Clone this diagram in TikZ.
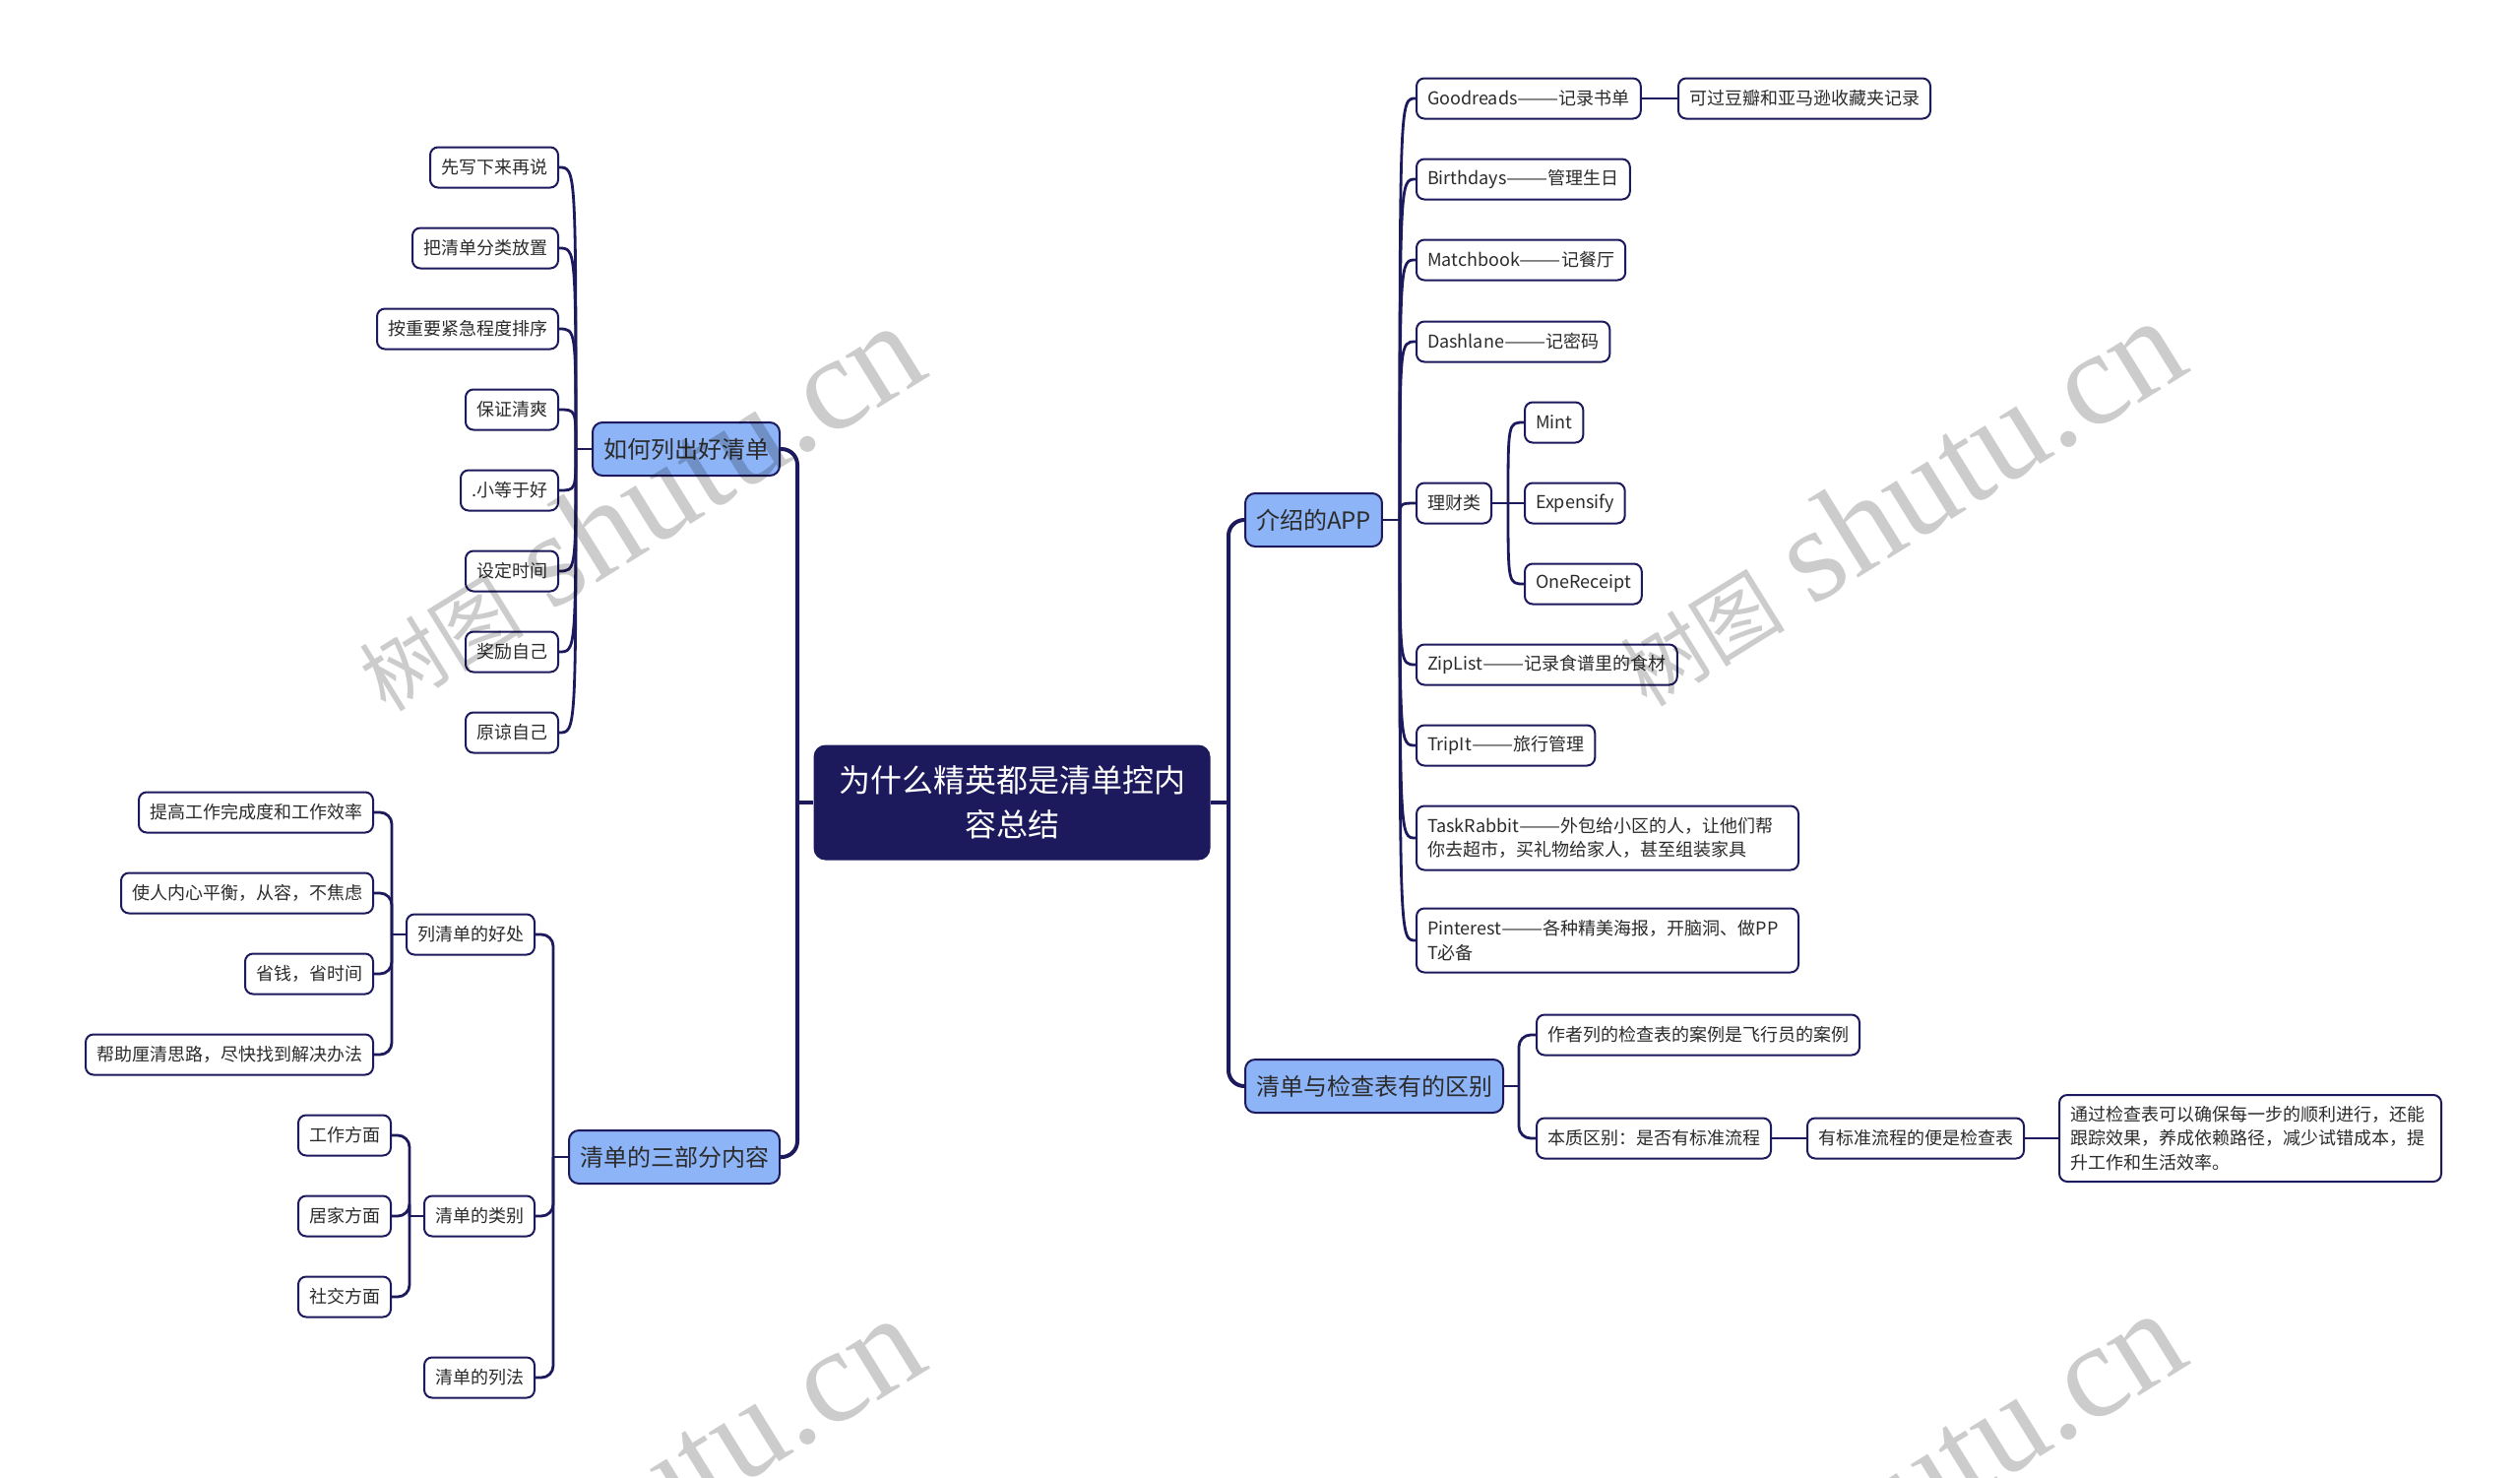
\documentclass[tikz,border=0pt]{standalone}
\usepackage{fontspec}
\setmainfont{Noto Sans CJK SC}
\newfontfamily\wmlat{Liberation Serif}
\newcommand\dashes{\scalebox{1.4}[1]{——}}
\definecolor{navy}{HTML}{1C1A5C}
\definecolor{blueone}{HTML}{8DB4F7}
\definecolor{txt}{HTML}{2B2B2B}
\tikzset{
  leaf/.style={draw=navy, line width=1pt, rounded corners=4pt, fill=white,
    font=\fontsize{9}{12.25}\selectfont, text=txt, inner xsep=5.5pt, inner ysep=0pt,
    minimum height=20.5pt},
  topic/.style={draw=navy, line width=1pt, rounded corners=5pt, fill=blueone,
    font=\fontsize{12}{14}\selectfont, text=txt, inner xsep=5.5pt, inner ysep=0pt,
    minimum height=27pt},
  root/.style={fill=navy, rounded corners=6pt, text=white,
    font=\fontsize{16}{22.5}\selectfont, align=center,
    minimum width=201.5pt, minimum height=58.5pt},
  trunk/.style={draw=navy, line width=2pt},
  conn/.style={draw=navy, line width=1.4pt},
  wm/.style={text=black, text opacity=0.2, inner sep=0pt},
}
\begin{document}
\begin{tikzpicture}[x=0.5pt,y=-0.5pt]
\useasboundingbox (0,0) rectangle (2560,1500);

% root
\node[root] (root) at (1028,815) {为什么精英都是清单控内\\容总结};

% topics
\node[topic, anchor=east] (t1) at (793,456) {如何列出好清单};
\node[topic, anchor=east] (t2) at (793,1175) {清单的三部分内容};
\node[topic, anchor=west] (t3) at (1264,528) {介绍的APP};
\node[topic, anchor=west] (t4) at (1264,1103) {清单与检查表有的区别};

% trunks
\coordinate (jl) at (810,815);
\coordinate (jr) at (1248,815);
\draw[trunk] (root.west) -- (jl);
\draw[trunk, rounded corners=8pt] (jl) |- (t1.east);
\draw[trunk, rounded corners=8pt] (jl) |- (t2.east);
\draw[trunk] (root.east) -- (jr);
\draw[trunk, rounded corners=8pt] (jr) |- (t3.west);
\draw[trunk, rounded corners=8pt] (jr) |- (t4.west);

% group 1: 如何列出好清单
\node[leaf, anchor=east] (a1) at (568,170) {先写下来再说};
\node[leaf, anchor=east] (a2) at (568,252) {把清单分类放置};
\node[leaf, anchor=east] (a3) at (568,334) {按重要紧急程度排序};
\node[leaf, anchor=east] (a4) at (568,416) {保证清爽};
\node[leaf, anchor=east] (a5) at (568,498) {.小等于好};
\node[leaf, anchor=east] (a6) at (568,580) {设定时间};
\node[leaf, anchor=east] (a7) at (568,662) {奖励自己};
\node[leaf, anchor=east] (a8) at (568,744) {原谅自己};
\coordinate (s1) at (585,456);
\draw[conn] (t1.west) -- (s1);
\foreach \n in {a1,a2,a3,a4,a5,a6,a7,a8}
  \draw[conn] (s1) .. controls (s1 |- \n.east) and (s1 |- \n.east) .. (\n.east);

% group 2: 清单的三部分内容
\node[leaf, anchor=east] (d1) at (544,949) {列清单的好处};
\node[leaf, anchor=east] (d2) at (544,1235) {清单的类别};
\node[leaf, anchor=east] (d3) at (544,1399) {清单的列法};
\coordinate (s2) at (562,1175);
\draw[conn] (t2.west) -- (s2);
\foreach \n in {d1,d2,d3}
  \draw[conn, rounded corners=6pt] (s2) |- (\n.east);

\node[leaf, anchor=east] (e1) at (380,825) {提高工作完成度和工作效率};
\node[leaf, anchor=east] (e2) at (380,907) {使人内心平衡，从容，不焦虑};
\node[leaf, anchor=east] (e3) at (380,989) {省钱，省时间};
\node[leaf, anchor=east] (e4) at (380,1071) {帮助厘清思路，尽快找到解决办法};
\coordinate (s21) at (398,949);
\draw[conn] (d1.west) -- (s21);
\foreach \n in {e1,e2,e3,e4}
  \draw[conn, rounded corners=6pt] (s21) |- (\n.east);

\node[leaf, anchor=east] (f1) at (398,1153) {工作方面};
\node[leaf, anchor=east] (f2) at (398,1235) {居家方面};
\node[leaf, anchor=east] (f3) at (398,1317) {社交方面};
\coordinate (s22) at (416,1235);
\draw[conn] (d2.west) -- (s22);
\foreach \n in {f1,f2,f3}
  \draw[conn, rounded corners=6pt] (s22) |- (\n.east);

% group 3: 介绍的APP
\node[leaf, anchor=west] (b1) at (1438,100) {Goodreads\dashes 记录书单};
\node[leaf, anchor=west] (b1x) at (1704,100) {可过豆瓣和亚马逊收藏夹记录};
\node[leaf, anchor=west] (b2) at (1438,182) {Birthdays\dashes 管理生日};
\node[leaf, anchor=west] (b3) at (1438,264) {Matchbook\dashes 记餐厅};
\node[leaf, anchor=west] (b4) at (1438,347) {Dashlane\dashes 记密码};
\node[leaf, anchor=west] (b5) at (1438,511) {理财类};
\node[leaf, anchor=west] (b6) at (1438,675) {ZipList\dashes 记录食谱里的食材};
\node[leaf, anchor=west] (b7) at (1438,757) {TripIt\dashes 旅行管理};
\node[leaf, anchor=west, align=left, text width=183pt, minimum height=32.5pt] (b8) at (1438,851)
  {TaskRabbit\dashes 外包给小区的人，让他们帮\\你去超市，买礼物给家人，甚至组装家具};
\node[leaf, anchor=west, align=left, text width=183pt, minimum height=32.5pt] (b9) at (1438,955)
  {Pinterest\dashes 各种精美海报，开脑洞、做PP\\T必备};
\coordinate (s3) at (1422,528);
\draw[conn] (t3.east) -- (s3);
\foreach \n in {b1,b2,b3,b4,b5,b6,b7,b8,b9}
  \draw[conn] (s3) .. controls (s3 |- \n.west) and (s3 |- \n.west) .. (\n.west);
\draw[conn] (b1.east) -- (b1x.west);

\node[leaf, anchor=west] (m1) at (1548,429) {Mint};
\node[leaf, anchor=west] (m2) at (1548,511) {Expensify};
\node[leaf, anchor=west] (m3) at (1548,593) {OneReceipt};
\coordinate (s5) at (1532,511);
\draw[conn] (b5.east) -- (s5);
\foreach \n in {m1,m2,m3}
  \draw[conn] (s5) .. controls (s5 |- \n.west) and (s5 |- \n.west) .. (\n.west);

% group 4: 清单与检查表有的区别
\node[leaf, anchor=west] (c1) at (1560,1051) {作者列的检查表的案例是飞行员的案例};
\node[leaf, anchor=west] (c2) at (1560,1156) {本质区别：是否有标准流程};
\node[leaf, anchor=west] (c2x) at (1835,1156) {有标准流程的便是检查表};
\node[leaf, anchor=west, align=left, text width=183pt, minimum height=44pt] (c2y) at (2091,1156)
  {通过检查表可以确保每一步的顺利进行，还能\\跟踪效果，养成依赖路径，减少试错成本，提\\升工作和生活效率。};
\coordinate (s4) at (1543,1103);
\draw[conn] (t4.east) -- (s4);
\foreach \n in {c1,c2}
  \draw[conn, rounded corners=6pt] (s4) |- (\n.west);
\draw[conn] (c2.east) -- (c2x.west);
\draw[conn] (c2x.east) -- (c2y.west);

% watermarks
\begin{scope}
\clip (0,0) rectangle (2560,1500);
\foreach \p in {(647,515),(1928,510),(647,1523),(1928,1518)}
  \node[wm, rotate=31.8] at \p {{\fontsize{42}{42}\selectfont 树图}\hspace{14pt}{\wmlat\fontsize{68}{68}\selectfont shutu.cn}};
\end{scope}
\end{tikzpicture}
\end{document}
